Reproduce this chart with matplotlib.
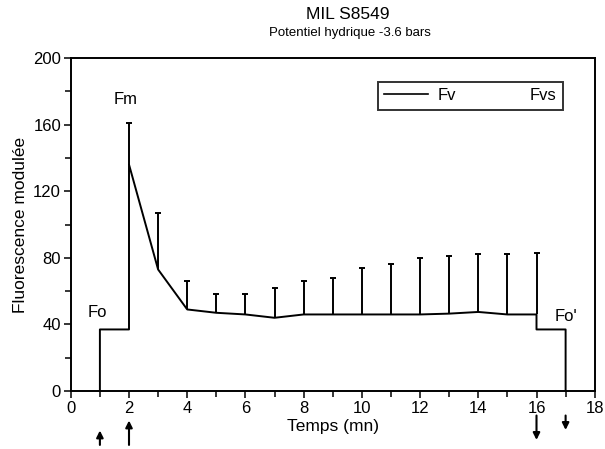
import matplotlib.pyplot as plt
from matplotlib.lines import Line2D

plt.rcParams['font.family'] = ['Liberation Sans', 'DejaVu Sans']

# trace Fv (fluorescence variable)
fv_t = [1, 1, 2, 2, 3, 4, 5, 6, 7, 8, 9, 10, 11, 12, 13, 14, 15, 16, 16, 17, 17]
fv = [0, 37, 37, 136, 73, 49, 47, 46, 44, 46, 46, 46, 46, 46, 46.5, 47.5, 46, 46, 37, 37, 0]

# pics Fvs
fvs_t = [2, 3, 4, 5, 6, 7, 8, 9, 10, 11, 12, 13, 14, 15, 16]
fvs_base = [136, 73, 49, 47, 46, 44, 46, 46, 46, 46, 46, 46.5, 47.5, 46, 46]
fvs = [161, 107, 66, 58, 58, 62, 66, 68, 74, 76, 80, 81, 82, 82.5, 83]

up_arrows = [1, 2]
down_arrows = [16, 17]

fig = plt.figure(figsize=(6.05, 4.49), dpi=100)
ax = fig.add_axes([0.117, 0.129, 0.866, 0.742])

ax.plot(fv_t, fv, color='black', lw=1.4)
ax.vlines(fvs_t, fvs_base, fvs, color='black', lw=1.4)
ax.plot(fvs_t, fvs, ls='none', marker='_', ms=4, mew=1.4, color='black')

ax.set_xlim(0, 18)
ax.set_ylim(0, 200)
ax.set_xticks(range(0, 19, 2))
ax.set_xticks(range(0, 19), minor=True)
ax.set_yticks(range(0, 201, 40))
ax.set_yticks(range(0, 201, 20), minor=True)
ax.tick_params(which='both', direction='out', labelsize=12, width=1.1, pad=2)
ax.tick_params(which='major', length=5)
ax.tick_params(which='minor', length=4)
for s in ax.spines.values():
    s.set_linewidth(1.4)

ax.set_xlabel('Temps (mn)', fontsize=12.5, labelpad=2)
ax.set_ylabel('Fluorescence modulée', fontsize=12.5, labelpad=4)

fig.text(0.574, 0.967, 'MIL S8549', ha='center', va='center', fontsize=12.5)
fig.text(0.578, 0.927, 'Potentiel hydrique -3.6 bars', ha='center', va='center', fontsize=9.5)

ax.text(0.9, 47, 'Fo', ha='center', va='center', fontsize=12)
ax.text(1.9, 175, 'Fm', ha='center', va='center', fontsize=12)
ax.text(17.0, 45, "Fo'", ha='center', va='center', fontsize=12)

for t in up_arrows:
    ax.annotate('', xy=(t, -22 if t == 1 else -16), xytext=(t, -34),
                annotation_clip=False,
                arrowprops=dict(arrowstyle='-|>', color='black', lw=1.5, mutation_scale=10))
for t in down_arrows:
    ax.annotate('', xy=(t, -31 if t == 16 else -25), xytext=(t, -13),
                annotation_clip=False,
                arrowprops=dict(arrowstyle='-|>', color='black', lw=1.5, mutation_scale=10))

handles = [Line2D([], [], color='black', lw=1.2), Line2D([], [], ls='none')]
leg = ax.legend(handles, ['Fv', 'Fvs'], ncol=2, loc='lower left',
                bbox_to_anchor=(0.586, 0.844, 0.353, 0.105), mode='expand',
                fontsize=12, frameon=True, fancybox=False, borderaxespad=0,
                handlelength=2.6, handletextpad=0.6, columnspacing=2.0)
leg.get_frame().set_edgecolor('black')
leg.get_frame().set_linewidth(1.4)

fig.savefig('out.png', dpi=100)
